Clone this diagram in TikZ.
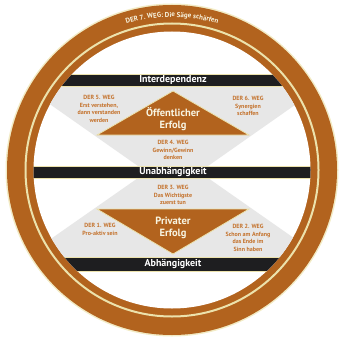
\documentclass[tikz,border=0pt]{standalone}
\usepackage{fontspec}
\setmainfont{PT Sans}
\usepackage{tikz}
\usetikzlibrary{positioning,calc,decorations.text}

\definecolor{braun}{RGB}{178,99,30}
\definecolor{creme}{RGB}{236,226,172}
\definecolor{hellgrau}{RGB}{231,231,231}
\definecolor{balkenfarbe}{RGB}{30,30,32}
\definecolor{wegfarbe}{RGB}{196,114,44}

\begin{document}
\begin{tikzpicture}[x=1pt, y=1pt,
    balken/.style={fill=balkenfarbe, draw=creme, line width=.6pt},
    stufe/.style={fill=braun, draw=creme, line width=.8pt},
    stufentext/.style={text=white, font=\bfseries\fontsize{10}{11}\selectfont, inner sep=0pt},
    erfolg/.style={text=creme!35!white, font=\bfseries\fontsize{10.5}{12.5}\selectfont, align=center, inner sep=0pt},
    weg/.style={text=wegfarbe, font=\bfseries\fontsize{6}{7.6}\selectfont, align=center, inner sep=0pt}]
    \useasboundingbox (0,0) rectangle (339,338);
    \coordinate (m) at (172,168);
    % Ring: der 7. Weg
    \fill[creme!70!white] (m) circle (166.5);
    \fill[braun] (m) circle (165);
    \draw[creme, line width=2pt] (m) circle (146.5);
    \fill[white] (m) circle (138.5);
    \path[decorate, decoration={text along path, text align=center,
        text color=creme!40!white,
        text={|\bfseries\fontsize{7}{8}\selectfont|DER 7. WEG: Die Säge schärfen}}]
        (m) ++(125:153) arc[start angle=125, end angle=55, radius=153];
    \begin{scope}
        \clip (m) circle (138.5);
        % graue Flaechen
        \fill[hellgrau] (24,252) -- (322,252) -- (208,172) -- (138,172) -- cycle;
        \fill[hellgrau] (25,81) -- (321,81) -- (208,160) -- (138,160) -- cycle;
        % Balken
        \foreach \y/\h in {252/12, 160/12, 67/14}
            \draw[balken] (0,\y) rectangle (339,\y+\h);
    \end{scope}
    \node[stufentext] (inter) at (173,258) {Interdependenz};
    \node[stufentext] (unab) at (173,166) {Unabhängigkeit};
    \node[stufentext] (abh) at (173,74) {Abhängigkeit};
    % Erfolg
    \draw[stufe] (97,203) -- (249,203) -- (173,247) -- cycle;
    \draw[stufe] (97,129) -- (249,129) -- (173,84) -- cycle;
    \node[erfolg] (oeff) at (173,219) {Öffentlicher\\Erfolg};
    \node[erfolg] (priv) at (173,110) {Privater\\Erfolg};
    % die Wege
    \node[weg] (weg5) at (99,229) {DER 5. WEG\\Erst verstehen,\\dann verstanden\\werden};
    \node[weg] (weg6) at (248,232) {DER 6. WEG\\Synergien\\schaffen};
    \node[weg] (weg4) at (173,188) {DER 4. WEG\\Gewinn/Gewinn\\denken};
    \node[weg] (weg3) at (173,143) {DER 3. WEG\\Das Wichtigste\\zuerst tun};
    \node[weg] (weg1) at (100,108.5) {DER 1. WEG\\Pro-aktiv sein};
    \node[weg] (weg2) at (248,100) {DER 2. WEG\\Schon am Anfang\\das Ende im\\Sinn haben};
\end{tikzpicture}
\end{document}
